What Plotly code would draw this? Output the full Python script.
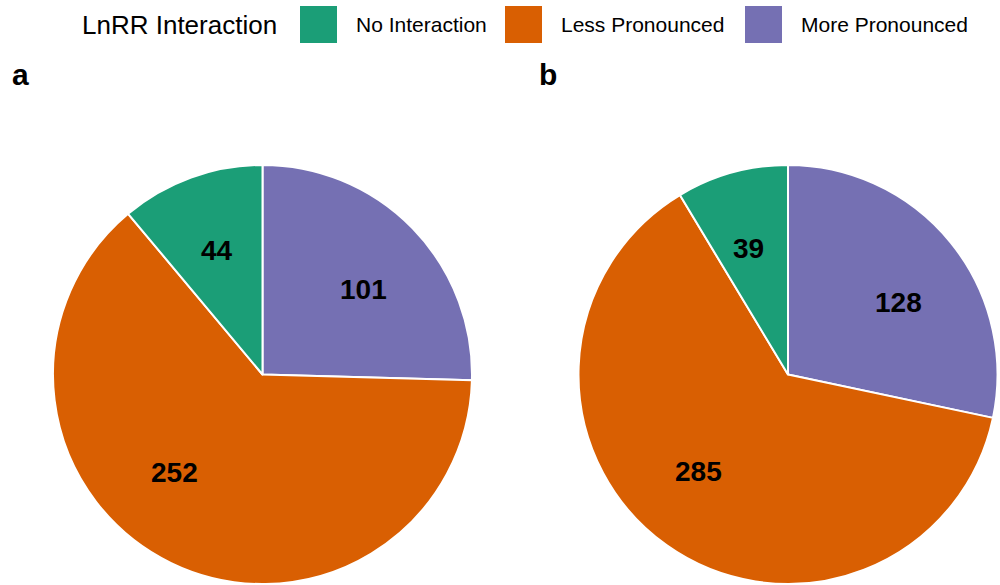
import math
import plotly.graph_objects as go

# Interaction categories and counts per panel
categories = ["No Interaction", "Less Pronounced", "More Pronounced"]
colors = ["#1B9E77", "#D95F02", "#7570B3"]
panel_tags = ["a", "b"]
counts_a = [44, 252, 101]
counts_b = [39, 285, 128]

W, H = 1000, 585

# Pie domains in paper coordinates
domains = [
    dict(x=[0.053, 0.472], y=[1 - 584 / 585, 1 - 165 / 585]),
    dict(x=[0.5785, 0.9975], y=[1 - 584 / 585, 1 - 165 / 585]),
]
# Small angular offsets (degrees, clockwise) for the count labels
label_nudge = [[0.0, 16.0, 4.0], [-2.0, 7.0, 6.0]]
label_radius = 0.63

fig = go.Figure()
annotations = []

for counts, dom, nudge in zip([counts_a, counts_b], domains, label_nudge):
    # categories run anticlockwise from 12 o'clock, i.e. reversed order clockwise
    fig.add_trace(go.Pie(
        labels=categories[::-1],
        values=counts[::-1],
        sort=False,
        direction="clockwise",
        rotation=0,
        marker=dict(colors=colors[::-1], line=dict(color="white", width=2)),
        textinfo="none",
        hoverinfo="label+value",
        domain=dom,
        showlegend=False,
    ))
    # label placement derived from slice angles
    cx = (dom["x"][0] + dom["x"][1]) / 2 * W
    cy = (1 - (dom["y"][0] + dom["y"][1]) / 2) * H
    R = min((dom["x"][1] - dom["x"][0]) * W, (dom["y"][1] - dom["y"][0]) * H) / 2
    total = sum(counts)
    start = 0.0
    for v, nd in zip(counts, nudge):
        mid_ccw = (start + v / 2) / total * 360.0
        start += v
        ang = math.radians(-mid_ccw + nd)  # clockwise angle from 12 o'clock
        px = cx + label_radius * R * math.sin(ang)
        py = cy - label_radius * R * math.cos(ang)
        annotations.append(dict(
            x=px / W, y=1 - py / H, xref="paper", yref="paper",
            text=f"<b>{v}</b>", showarrow=False,
            font=dict(size=28, color="black", family="Liberation Sans, Arial, sans-serif"),
            xanchor="center", yanchor="middle",
        ))

# Panel tags
for tag, xp in zip(panel_tags, [0.010, 0.537]):
    annotations.append(dict(
        x=xp, y=1 - 74 / H, xref="paper", yref="paper", text=f"<b>{tag}</b>",
        showarrow=False, xanchor="left", yanchor="middle",
        font=dict(size=30, color="black", family="Liberation Sans, Arial, sans-serif"),
    ))

# Legend drawn at the top
annotations.append(dict(
    x=80 / W, y=1 - 25 / H, xref="paper", yref="paper", text="LnRR Interaction",
    showarrow=False, xanchor="left", yanchor="middle",
    font=dict(size=26, color="black", family="Liberation Sans, Arial, sans-serif"),
))
shapes = []
box_x = [300, 505, 745]
for name, col, bx in zip(categories, colors, box_x):
    shapes.append(dict(
        type="rect", xref="paper", yref="paper",
        x0=bx / W, x1=(bx + 37) / W, y0=1 - 43 / H, y1=1 - 6 / H,
        fillcolor=col, line=dict(width=0),
    ))
    annotations.append(dict(
        x=(bx + 54) / W, y=1 - 25 / H, xref="paper", yref="paper", text=name,
        showarrow=False, xanchor="left", yanchor="middle",
        font=dict(size=21, color="black", family="Liberation Sans, Arial, sans-serif"),
    ))

fig.update_layout(
    width=W, height=H,
    margin=dict(l=0, r=0, t=0, b=0),
    paper_bgcolor="white", plot_bgcolor="white",
    annotations=annotations, shapes=shapes,
    showlegend=False,
)

fig.write_html("out.html")
